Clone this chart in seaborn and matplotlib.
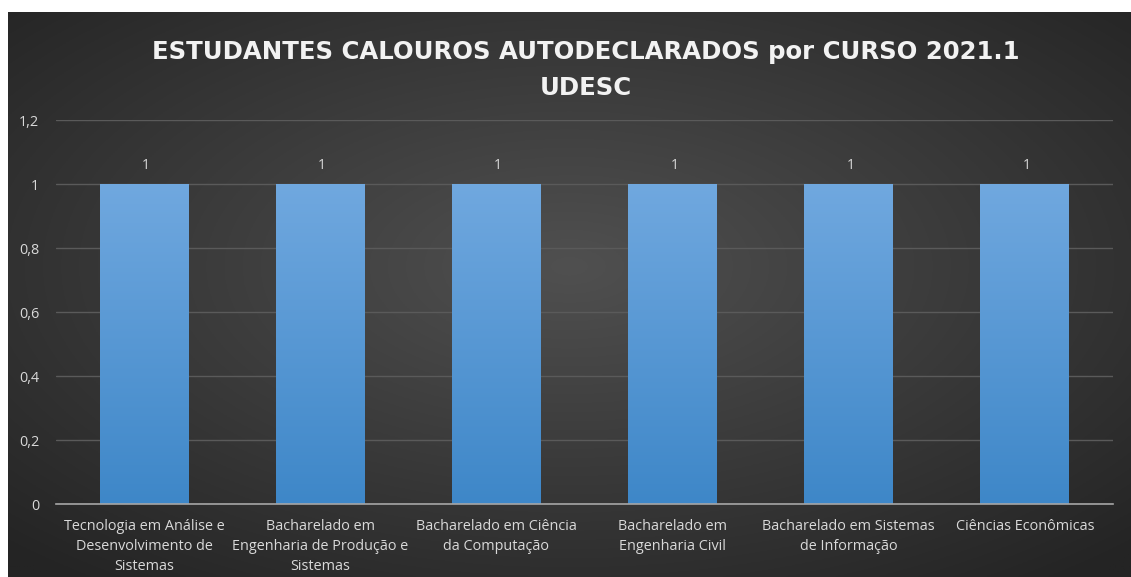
import numpy as np
import pandas as pd
import matplotlib
matplotlib.use("Agg")
import matplotlib.pyplot as plt
import seaborn as sns

categories = [
    "Tecnologia em Análise e\nDesenvolvimento de\nSistemas",
    "Bacharelado em\nEngenharia de Produção e\nSistemas",
    "Bacharelado em Ciência\nda Computação",
    "Bacharelado em\nEngenharia Civil",
    "Bacharelado em Sistemas\nde Informação",
    "Ciências Econômicas",
]
values = [1, 1, 1, 1, 1, 1]
yticks = [0, 0.2, 0.4, 0.6, 0.8, 1.0, 1.2]
ytick_labels = ["0", "0,2", "0,4", "0,6", "0,8", "1", "1,2"]
title = "ESTUDANTES CALOUROS AUTODECLARADOS por CURSO 2021.1\nUDESC"

sns.set_theme(style="dark")
plt.rcParams['font.family'] = ['Open Sans', 'DejaVu Sans']

W, H = 1131, 577
fig = plt.figure(figsize=(W / 100, H / 100), dpi=100)
fig.patch.set_facecolor("white")

# dark radial-gradient background panel
bg = fig.add_axes([8 / W, 0, 1 - 8 / W, 1 - 12 / H])
bg.set_axis_off()
yy, xx = np.mgrid[0:1:300j, 0:1:600j]
r = np.sqrt(((xx - 0.5) / 0.75) ** 2 + ((yy - 0.55) / 0.75) ** 2)
r = np.clip(r / 0.95, 0, 1)
light = np.array([0x50, 0x50, 0x50]) / 255
dark = np.array([0x24, 0x24, 0x24]) / 255
img = light[None, None, :] * (1 - r[..., None]) + dark[None, None, :] * r[..., None]
bg.imshow(img, aspect="auto", extent=[0, 1, 0, 1], origin="lower")
bg.set_xlim(0, 1); bg.set_ylim(0, 1)

ax = fig.add_axes([56 / W, (H - 504) / H, (1113 - 56) / W, (504 - 120) / H])
ax.patch.set_alpha(0)
df = pd.DataFrame({"curso": categories, "valor": values})
sns.barplot(data=df, x="curso", y="valor", ax=ax, width=0.505,
            color="#5b9bd5", saturation=1, edgecolor="none", zorder=3)
ax.set_ylim(0, 1.2)
ax.set_xlim(-0.5, len(categories) - 0.5)

# gradient fill on bars
grad = np.linspace(0, 1, 256)[:, None]
top = np.array([0x70, 0xa8, 0xdf]) / 255
bot = np.array([0x3e, 0x87, 0xc8]) / 255
gimg = bot[None, None, :] * (1 - grad[..., None]) + top[None, None, :] * grad[..., None]
gimg = np.repeat(gimg, 2, axis=1)
for p in ax.patches:
    x0, y0 = p.get_x(), p.get_y()
    w, h = p.get_width(), p.get_height()
    im = ax.imshow(gimg, extent=[x0, x0 + w, y0, y0 + h], origin="lower",
                   aspect="auto", zorder=4)
    im.set_clip_path(p)
ax.set_xlim(-0.5, len(categories) - 0.5)
ax.set_ylim(0, 1.2)

for i, v in enumerate(values):
    ax.text(i + 0.01, v + 0.035, f"{v}", ha="center", va="bottom", color="#d9d9d9",
            fontsize=10, zorder=5)

ax.set_yticks(yticks)
ax.set_yticklabels(ytick_labels)
ax.grid(axis="y", color="#5a5a5a", linewidth=1, zorder=0)
ax.grid(axis="x", visible=False)
for s in ["top", "right", "left"]:
    ax.spines[s].set_visible(False)
ax.spines["bottom"].set_color("#a6a6a6")
ax.spines["bottom"].set_linewidth(1.2)
ax.spines["bottom"].set_zorder(6)
ax.tick_params(axis="both", colors="#d9d9d9", labelsize=10.4, length=0)
ax.tick_params(axis="y", pad=12)
ax.tick_params(axis="x", pad=11)
for lab in ax.get_xticklabels():
    lab.set_linespacing(1.42)
ax.set_xlabel("")
ax.set_ylabel("")

fig.text(0.5 + 20 / W, 1 - 70 / H, title, ha="center", va="center",
         fontsize=17.6, fontweight="bold", color="#f2f2f2", linespacing=1.6,
         family=["DejaVu Sans"])

fig.savefig("out.png", dpi=100, facecolor=fig.get_facecolor())
